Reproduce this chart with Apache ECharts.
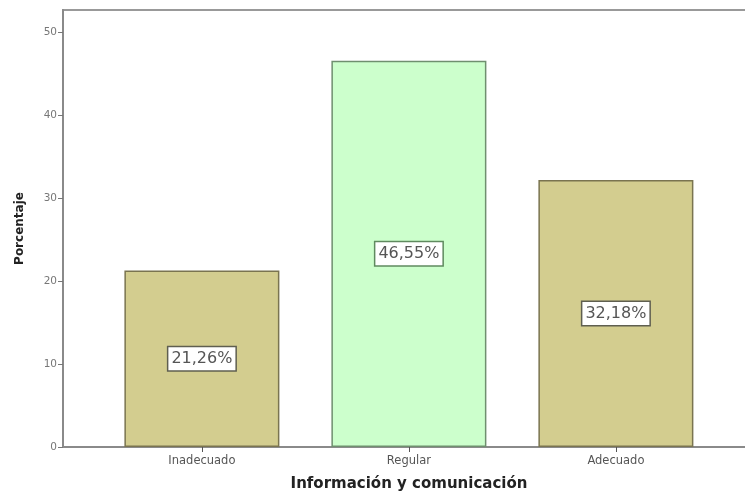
<!DOCTYPE html>
<html>
<head>
<meta charset="utf-8">
<script src="https://cdn.jsdelivr.net/npm/echarts@6/dist/echarts.min.js"></script>
<style>
  html, body { margin: 0; padding: 0; background: #fff; }
  #chart { width: 745px; height: 493px; }
</style>
</head>
<body>
<div id="chart"></div>
<script>
// Categories and percentage values
const categories = ['Inadecuado', 'Regular', 'Adecuado'];
const percentages = [21.26, 46.55, 32.18];
const barColors = ['#d3cd8f', '#ccffcc', '#d3cd8f'];
const borderColors = ['#7a7450', '#6f8f6f', '#7a7450'];
const labelBorders = ['#5f5f50', '#5f8a5f', '#5f5f50'];
const yTicks = [0, 10, 20, 30, 40, 50];

// Bars are placed at positions 1..n on a value x-axis
const positions = categories.map((c, i) => i + 1);

const chart = echarts.init(document.getElementById('chart'));

const fmt = v => v.toFixed(2).replace('.', ',') + '%';
const FONT = 'DejaVu Sans';

chart.setOption({
  animation: false,
  backgroundColor: '#fff',
  grid: {
    left: 63, right: -10, top: 10, bottom: 46,
    outerBoundsMode: 'none',
    containLabel: false,
    show: true, borderColor: '#999', borderWidth: 2, backgroundColor: 'transparent'
  },
  xAxis: {
    type: 'value',
    min: 0.329,
    max: 3.672,
    name: 'Información y comunicación',
    nameLocation: 'middle',
    nameGap: 30,
    nameTextStyle: { fontFamily: FONT, fontWeight: 'bold', fontSize: 15, color: '#222' },
    splitLine: { show: false },
    axisLine: { show: true, lineStyle: { color: '#8a8a8a', width: 2 } },
    axisTick: { show: true, customValues: positions, length: 5, lineStyle: { color: '#555' } },
    axisLabel: {
      customValues: positions,
      formatter: v => categories[Math.round(v) - 1] || '',
      fontFamily: FONT, fontSize: 11.5, color: '#555', margin: 8
    }
  },
  yAxis: {
    type: 'value',
    min: 0,
    max: 52.65,
    interval: 10,
    name: 'Porcentaje',
    nameLocation: 'middle',
    nameGap: 37,
    nameTextStyle: { fontFamily: FONT, fontWeight: 'bold', fontSize: 12, color: '#222' },
    splitLine: { show: false },
    axisLine: { show: true, lineStyle: { color: '#8a8a8a', width: 2 } },
    axisTick: { show: true, customValues: yTicks, length: 5, lineStyle: { color: '#777' } },
    axisLabel: {
      customValues: yTicks,
      fontFamily: FONT, fontSize: 10.5, color: '#777', margin: 6
    }
  },
  series: [{
    type: 'bar',
    barWidth: 155,
    data: percentages.map((v, i) => ({
      value: [positions[i], v],
      itemStyle: { color: barColors[i], borderColor: borderColors[i], borderWidth: 1.5 },
      label: { borderColor: labelBorders[i] }
    })),
    label: {
      show: true,
      position: 'inside',
      formatter: p => fmt(p.value[1]),
      fontFamily: FONT,
      fontSize: 16,
      color: '#555',
      backgroundColor: '#fff',
      borderWidth: 1.5,
      padding: [4, 3, 3, 3]
    }
  }]
});
</script>
</body>
</html>
